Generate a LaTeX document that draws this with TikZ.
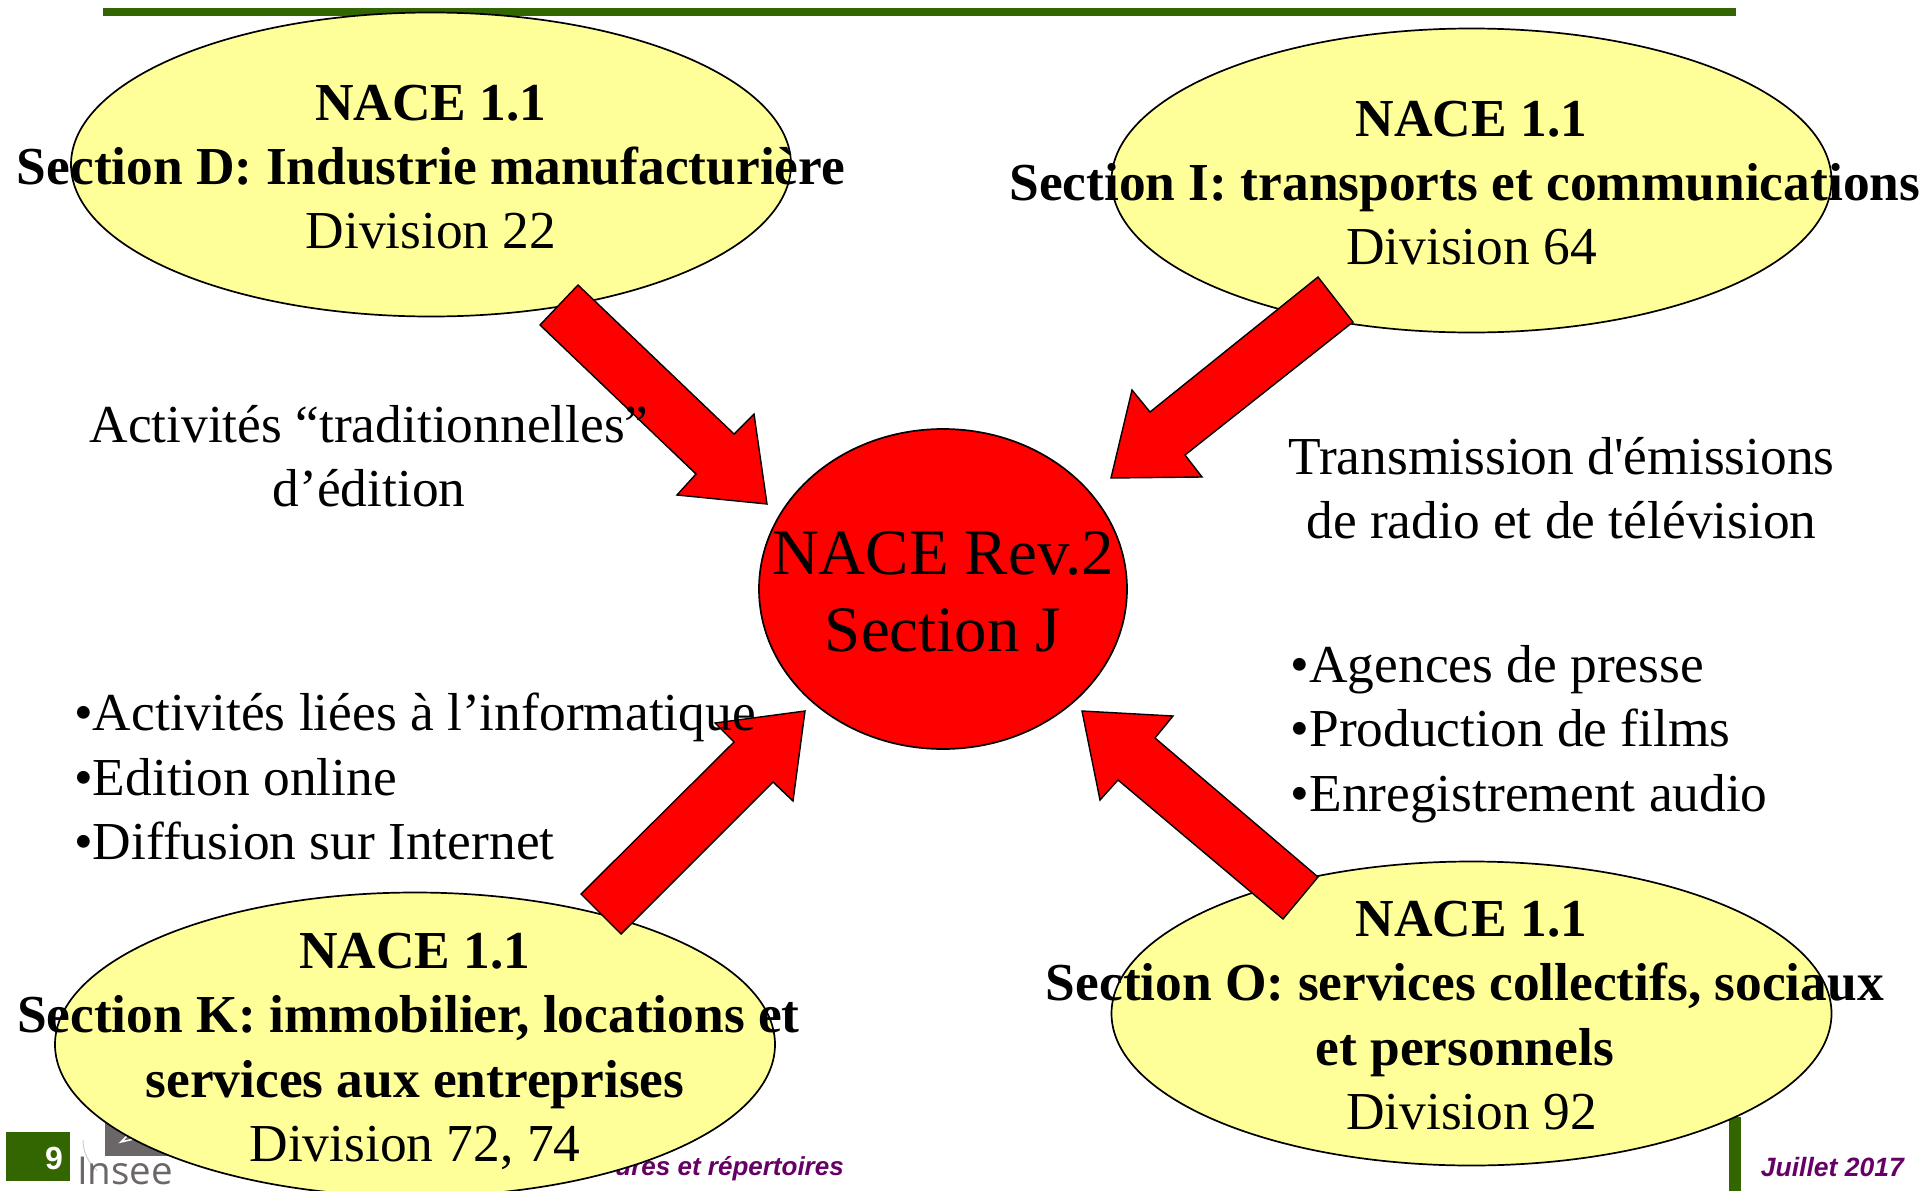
\documentclass[tikz,border=0pt]{standalone}
\usepackage{fontspec}
\setmainfont{Liberation Serif}
\newfontfamily\plainserif{Liberation Serif}
\newfontfamily\footfont{Liberation Sans}
\newfontfamily\logofont{Open Sans}
\usetikzlibrary{shapes.geometric}
\definecolor{barcol}{RGB}{51,102,0}
\definecolor{ellcol}{RGB}{255,255,153}
\definecolor{footcol}{RGB}{102,0,102}
\definecolor{logocol}{RGB}{107,103,104}
\newcommand{\trailsp}{\hspace{13.3pt}\mbox{}}
\tikzset{
  x=1pt,y=-1pt,
  sect/.style={ellipse,draw=black,line width=1.7pt,fill=ellcol,minimum width=720pt,minimum height=304pt,inner sep=0pt},
  bigarrow/.style={draw=black,line width=1.4pt,fill=red,line join=miter},
  lab/.style={align=center,font=\fontsize{53.4}{64.4}\selectfont,inner sep=0pt},
  listlab/.style={align=left,font=\fontsize{53.4}{64.4}\selectfont,inner sep=0pt,anchor=north west},
  bar/.style={fill=barcol,draw=none}
}
\begin{document}
\begin{tikzpicture}
\useasboundingbox (0,0) rectangle (1922,1191);
% decoration behind
\fill[bar] (103,8) rectangle (1736,16);
\fill[bar] (1729,1117) rectangle (1741,1191);
\fill[bar] (6,1132) rectangle (70,1181);
\node[inner sep=0pt,text=white,font=\footfont\bfseries\fontsize{32}{32}\selectfont] (pagenum) at (54,1158) {9};
\fill[logocol] (105,1118) rectangle (200,1156);
\draw[white,line width=1.5pt] (121,1142) -- (135,1128) -- (138,1138) -- cycle;
\draw[gray!40,line width=1pt] (83,1140) arc[start angle=180,end angle=130,radius=40];
\node[inner sep=0pt,anchor=base west,text=logocol,font=\logofont\fontsize{38.5}{38.5}\selectfont] (insee) at (77,1184) {Insee};
\node[inner sep=0pt,anchor=base east,text=footcol,font=\footfont\bfseries\itshape\fontsize{26}{26}\selectfont] (foot1) at (844,1175) {ures et répertoires};
\node[inner sep=0pt,anchor=base east,text=footcol,font=\footfont\bfseries\itshape\fontsize{26.5}{26.5}\selectfont] (foot2) at (1904,1176) {Juillet 2017};
% ellipses
\node[sect] (d) at (431,164.5) {};
\node[sect] (i) at (1471.5,180.5) {};
\node[sect] (k) at (415,1044.5) {};
\node[sect] (o) at (1471.5,1013.5) {};
\node[ellipse,draw=black,line width=1.7pt,fill=red,minimum width=368pt,minimum height=320pt,inner sep=0pt] (j) at (943,589) {};
% arrows
\draw[bigarrow] (578,285) -- (734,434) -- (754,414) -- (767,504) -- (677,495) -- (696,474) -- (540,325) -- cycle;
\draw[bigarrow] (1318,277) -- (1353,322) -- (1185,455) -- (1202,477) -- (1111,478) -- (1132,390) -- (1150,412) -- cycle;
\draw[bigarrow] (581,894) -- (621,934) -- (773,782) -- (793,801) -- (805,711) -- (715,723) -- (734,742) -- cycle;
\draw[bigarrow] (1318,877) -- (1283,919) -- (1118,780) -- (1100,800) -- (1082,711) -- (1173,716) -- (1155,738) -- cycle;
% side texts
\node[lab] (t1) at (369,456) {Activités “traditionnelles”\\d’édition};
\node[lab,font=\plainserif\fontsize{53.4}{64.4}\selectfont] (t2) at (1561.5,488) {Transmission d'émissions\\de radio et de télévision};
\node[listlab] (t3) at (74,693) {•Activités liées à l’informatique\\•Edition online\\•Diffusion sur Internet};
\node[listlab] (t4) at (1290.5,645) {•Agences de presse\\•Production de films\\•Enregistrement audio};
% ellipse texts
\node[lab] (td) at (431,167) {\textbf{NACE 1.1}\\\textbf{Section D: Industrie manufacturière}\\Division 22};
\node[lab] (ti) at (1471.5,183) {\textbf{NACE 1.1}\\\textbf{Section I: transports et communications}\trailsp\\Division 64};
\node[lab] (tk) at (415,1051.5) {\textbf{NACE 1.1}\\\textbf{Section K: immobilier, locations et}\trailsp\\\textbf{services aux entreprises}\\Division 72, 74};
\node[lab] (to) at (1471.5,1015.5) {\textbf{NACE 1.1}\\\textbf{Section O: services collectifs, sociaux}\trailsp\\\textbf{et personnels}\trailsp\\Division 92};
\node[lab,font=\fontsize{64.9}{77}\selectfont] (tj) at (943,592) {NACE Rev.2\\Section J};
\end{tikzpicture}
\end{document}
